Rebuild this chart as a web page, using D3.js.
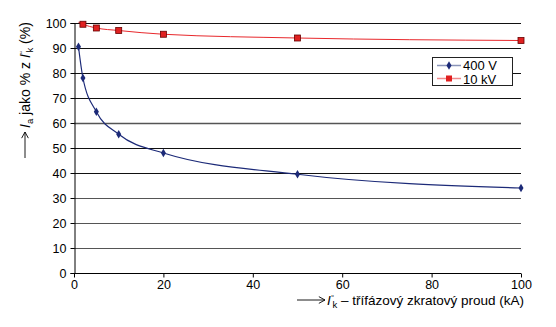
<!DOCTYPE html>
<html><head><meta charset="utf-8">
<script src="https://cdn.jsdelivr.net/npm/d3@7"></script>
<style>body{margin:0;background:#fff}svg{display:block}text{font-family:"Liberation Sans",Arial,sans-serif}</style>
</head><body>
<svg id="c" width="556" height="327"></svg>
<script>
const xTicks = [0, 20, 40, 60, 80, 100];
const yTicks = [0, 10, 20, 30, 40, 50, 60, 70, 80, 90, 100];
const x400 = [1, 2, 5, 10, 20, 50, 100];
const v400 = [90.5, 78, 64.5, 55.5, 48, 39.5, 34];
const x10k = [1, 2, 5, 10, 20, 50, 100];
const v10k = [100.3, 99.5, 98, 97, 95.5, 94, 93];
const seriesNames = ["400 V", "10 kV"];

const svg = d3.select("#c");
const L = 74, R = 521, T = 23, B = 273;
const x = d3.scaleLinear().domain([0, 100]).range([L, R]);
const y = d3.scaleLinear().domain([0, 100]).range([B, T]);
const FS = 12.5;

// grid
svg.append("g").selectAll("line").data(yTicks.filter(d => d > 0)).join("line")
  .attr("x1", L).attr("x2", R).attr("y1", d => y(d) + 0.5).attr("y2", d => y(d) + 0.5)
  .attr("stroke", d => (d === 60 || d <= 30) ? "#555" : "#111").attr("stroke-width", d => d === 60 ? 1.5 : 1);

// axes
const yAxis = svg.append("g").attr("transform", `translate(${L + 0.5},0)`)
  .call(d3.axisLeft(y).tickValues(yTicks).tickSize(4).tickPadding(4));
const xAxis = svg.append("g").attr("transform", `translate(0,${B + 0.5})`)
  .call(d3.axisBottom(x).tickValues(xTicks).tickSize(4).tickPadding(3));
[yAxis, xAxis].forEach(a => {
  a.select(".domain").attr("stroke", "#000");
  a.selectAll(".tick line").attr("stroke", "#000");
  a.selectAll("text").attr("font-size", FS).attr("fill", "#000").attr("font-family", '"Liberation Sans",Arial,sans-serif');
});
xAxis.select(".domain").attr("d", `M${L},0H${R}`);

// series
const line = d3.line().curve(d3.curveMonotoneX);
const pts10 = x10k.map((d, i) => [x(d), y(v10k[i])]);
const pts400 = x400.map((d, i) => [x(d), y(v400[i])]);
svg.append("path").attr("d", line(pts10)).attr("fill", "none").attr("stroke", "#e8282c").attr("stroke-width", 1);
svg.append("path").attr("d", line(pts400)).attr("fill", "none").attr("stroke", "#1c2a78").attr("stroke-width", 1.2);

svg.append("g").selectAll("rect").data(pts10.filter((p, i) => v10k[i] <= 100)).join("rect")
  .attr("x", p => p[0] - 3).attr("y", p => p[1] - 3).attr("width", 6).attr("height", 6)
  .attr("fill", "#e02020").attr("stroke", "#600").attr("stroke-width", 0.8);
const diamond = d3.symbol().type(d3.symbolDiamond).size(22);
svg.append("g").selectAll("path").data(pts400).join("path")
  .attr("transform", p => `translate(${p[0]},${p[1]})`).attr("d", diamond).attr("fill", "#1c2a78");

// legend
const lg = svg.append("g");
lg.append("rect").attr("x", 432.5).attr("y", 57.5).attr("width", 80).attr("height", 28)
  .attr("fill", "#fff").attr("stroke", "#222").attr("stroke-width", 1);
lg.append("line").attr("x1", 437).attr("x2", 461).attr("y1", 65.5).attr("y2", 65.5).attr("stroke", "#8a94b8").attr("stroke-width", 1.5);
lg.append("path").attr("transform", "translate(449,65.5)").attr("d", diamond).attr("fill", "#1c2a78");
lg.append("line").attr("x1", 437).attr("x2", 461).attr("y1", 78.5).attr("y2", 78.5).attr("stroke", "#f08a8c").attr("stroke-width", 1.5);
lg.append("rect").attr("x", 446).attr("y", 75.5).attr("width", 6).attr("height", 6).attr("fill", "#e02020");
lg.append("text").attr("x", 463).attr("y", 70).attr("font-size", 13).text(seriesNames[0]);
lg.append("text").attr("x", 463).attr("y", 83.5).attr("font-size", 13).text(seriesNames[1]);

// arrows
function arrow(g, x1, y1, x2, y2) {
  g.append("line").attr("x1", x1).attr("y1", y1).attr("x2", x2).attr("y2", y2).attr("stroke", "#000").attr("stroke-width", 0.9);
  const ang = Math.atan2(y2 - y1, x2 - x1);
  const a = 0.5, s = 7;
  g.append("path").attr("d",
    `M${x2 - s * Math.cos(ang - a)},${y2 - s * Math.sin(ang - a)}L${x2},${y2}L${x2 - s * Math.cos(ang + a)},${y2 - s * Math.sin(ang + a)}`)
    .attr("fill", "none").attr("stroke", "#000").attr("stroke-width", 0.9);
}
// x label
arrow(svg, 297, 300, 325, 300);
const xl = svg.append("text").attr("x", 327).attr("y", 304.5).attr("font-size", 13.5);
xl.append("tspan").attr("font-style", "italic").text("I");
xl.append("tspan").attr("font-size", 8).attr("dy", -5).attr("dx", 0.5).text("“");
xl.append("tspan").attr("font-size", 9.5).attr("dy", 8).attr("dx", -1.5).text("k");
xl.append("tspan").attr("dy", -3).text(" – třífázový zkratový proud (kA)");

// y label
const yg = svg.append("g").attr("transform", "translate(25,0)");
arrow(yg, 0, 158, 0, 132);
const yl = svg.append("text").attr("transform", "translate(30,128) rotate(-90)").attr("font-size", 14);
yl.append("tspan").attr("font-style", "italic").text("I");
yl.append("tspan").attr("font-size", 9.5).attr("dy", 3).text("a");
yl.append("tspan").attr("dy", -3).text(" jako % z ");
yl.append("tspan").attr("font-style", "italic").text("I");
yl.append("tspan").attr("font-size", 8).attr("dy", -5).attr("dx", 0.5).text("“");
yl.append("tspan").attr("font-size", 9.5).attr("dy", 8).attr("dx", -1.5).text("k");
yl.append("tspan").attr("dy", -3).text(" (%)");
</script>
</body></html>
